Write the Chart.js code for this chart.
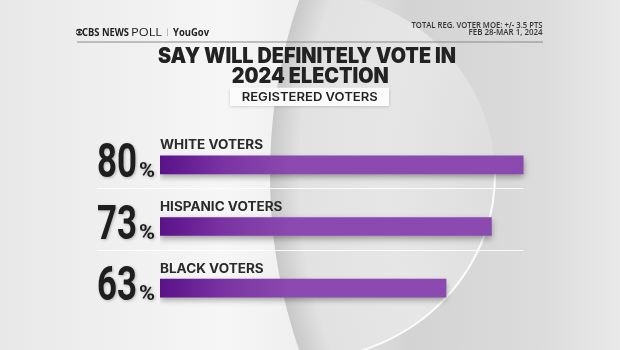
<!DOCTYPE html>
<html><head><meta charset="utf-8">
<script src="https://cdn.jsdelivr.net/npm/chart.js@4"></script>
<style>html,body{margin:0;padding:0;background:#ebebeb;overflow:hidden}#wrap{width:620px;height:350px;position:relative}</style>
</head><body><div id="wrap"><canvas id="c" width="620" height="350"></canvas></div>
<script>
const categories = ['WHITE VOTERS', 'HISPANIC VOTERS', 'BLACK VOTERS'];
const values = [80, 73, 63];
const axisMin = 0;
const axisMax = 100;
const titleLines = ['SAY WILL DEFINITELY VOTE IN', '2024 ELECTION'];
const subtitle = 'REGISTERED VOTERS';
const sourceLines = ['TOTAL REG. VOTER MOE: +/- 3.5 PTS', 'FEB 28-MAR 1, 2024'];
const brand = ['CBS NEWS', 'POLL', 'YouGov'];

function fitText(c, text, x, y, w, font, align, color) {
  c.save();
  c.font = font;
  const m = c.measureText(text).width;
  const s = w / m;
  c.translate(x, y);
  c.scale(s, 1);
  c.textAlign = align;
  c.textBaseline = 'alphabetic';
  c.fillStyle = color;
  c.fillText(text, 0, 0);
  c.restore();
}

const bgPlugin = {
  id: 'bg',
  beforeDraw(chart) {
    const c = chart.ctx, W = chart.width, H = chart.height;
    c.save();
    let g = c.createLinearGradient(0, 0, W, 0);
    g.addColorStop(0, '#e8e8e8');
    g.addColorStop(0.36, '#f6f6f6');
    g.addColorStop(0.47, '#f0f0f0');
    g.addColorStop(0.66, '#d3d3d3');
    g.addColorStop(0.88, '#dcdcdc');
    g.addColorStop(1, '#e9e9e9');
    c.fillStyle = g;
    c.fillRect(0, 0, W, H);
    // inner disc clipped by outer ellipse
    c.beginPath();
    c.ellipse(300, 175, 195, 185, 0, 0, Math.PI * 2);
    c.clip();
    c.translate(560, 175);
    c.scale(1, 400 / 290);
    const rg = c.createRadialGradient(0, 0, 0, 0, 0, 290);
    rg.addColorStop(0, '#d9d9d9');
    rg.addColorStop(0.6, '#e6e6e6');
    rg.addColorStop(0.9, '#e2e2e2');
    rg.addColorStop(1, '#c8c8c8');
    c.fillStyle = rg;
    c.beginPath();
    c.arc(0, 0, 290, 0, Math.PI * 2);
    c.fill();
    c.restore();
    // thin highlight
    c.save();
    c.strokeStyle = 'rgba(255,255,255,0.9)';
    c.lineWidth = 2;
    c.beginPath();
    c.ellipse(300, 175, 195, 185, 0, -0.05, 1.62);
    c.stroke();
    c.restore();

    // header
    c.save();
    // CBS eye
    c.fillStyle = '#222';
    c.beginPath(); c.arc(79.3, 32.2, 3.4, 0, Math.PI * 2); c.fill();
    c.fillStyle = '#f2f2f2';
    c.beginPath(); c.ellipse(79.3, 32.2, 3.1, 1.6, 0, 0, Math.PI * 2); c.fill();
    c.fillStyle = '#222';
    c.beginPath(); c.arc(79.3, 32.2, 1.2, 0, Math.PI * 2); c.fill();
    fitText(c, brand[0], 82, 35.5, 47, 'bold 10px "Open Sans"', 'left', '#222');
    fitText(c, brand[1], 131, 35.5, 31, '10px "Open Sans"', 'left', '#222');
    c.fillStyle = '#aaa'; c.fillRect(167, 28.5, 0.8, 7.5);
    fitText(c, brand[2], 173, 35.5, 36, 'bold 10px "Open Sans"', 'left', '#222');
    fitText(c, sourceLines[0], 542.5, 27.8, 131, '600 8px "Open Sans"', 'right', '#333');
    fitText(c, sourceLines[1], 542.5, 35.2, 74, '600 8px "Open Sans"', 'right', '#333');
    c.fillStyle = '#8a8a8a';
    c.fillRect(77, 41.5, 466, 1);
    // title
    fitText(c, titleLines[0], 307, 63.3, 298, '900 21px Inter', 'center', '#222');
    fitText(c, titleLines[1], 310.3, 83.3, 157, '900 21px Inter', 'center', '#222');
    // subtitle box
    c.shadowColor = 'rgba(0,0,0,0.2)'; c.shadowBlur = 3; c.shadowOffsetY = 1;
    c.fillStyle = '#fbfbfb';
    c.fillRect(230, 87.7, 159, 18.3);
    c.shadowColor = 'transparent';
    fitText(c, subtitle, 309.7, 100.7, 136, '600 12px Inter', 'center', '#222');
    c.restore();
  },
  beforeDatasetsDraw(chart) {
    const c = chart.ctx;
    const ys = chart.scales.y, xs = chart.scales.x;
    const x0 = xs.getPixelForValue(axisMin) - 63;
    const x1 = xs.getPixelForValue(axisMax * 0.8);
    c.save();
    c.fillStyle = 'rgba(255,255,255,0.85)';
    for (let i = 0; i < categories.length - 1; i++) {
      const y = Math.round(ys.getPixelForValue(i) + 23);
      c.fillRect(x0, y, x1 - x0, 1);
    }
    c.restore();
    c.save();
    c.shadowColor = 'rgba(0,0,0,0.35)';
    c.shadowBlur = 6;
    c.shadowOffsetY = 3;
  },
  afterDatasetsDraw(chart) {
    const c = chart.ctx;
    c.restore();
    const ys = chart.scales.y, xs = chart.scales.x;
    const left = xs.getPixelForValue(axisMin);
    c.save();
    c.font = 'bold 12.5px Inter';
    const labScale = 103 / c.measureText(categories[0]).width;
    c.font = 'bold 49px Roboto';
    const numScale = 40 / c.measureText('80').width;
    c.font = 'bold 20px Roboto';
    const pctScale = 16 / c.measureText('%').width;
    categories.forEach((cat, i) => {
      const yc = ys.getPixelForValue(i);
      // category label
      c.save();
      c.font = 'bold 12.5px Inter';
      c.fillStyle = '#2a2a2a';
      c.textAlign = 'left';
      c.translate(left, yc - 15.5);
      c.scale(labScale, 1);
      c.fillText(cat, 0, 0);
      c.restore();
      // big number
      c.save();
      c.shadowColor = 'rgba(0,0,0,0.25)'; c.shadowBlur = 3; c.shadowOffsetX = 1; c.shadowOffsetY = 1;
      c.font = 'bold 49px Roboto';
      c.fillStyle = '#1e1e1e';
      c.textAlign = 'right';
      c.translate(left - 23, yc + 12);
      c.scale(numScale, 1);
      c.fillText(String(values[i]), 0, 0);
      c.restore();
      c.save();
      c.shadowColor = 'rgba(0,0,0,0.25)'; c.shadowBlur = 3; c.shadowOffsetX = 1; c.shadowOffsetY = 1;
      c.font = 'bold 20px Roboto';
      c.fillStyle = '#1e1e1e';
      c.textAlign = 'left';
      c.translate(left - 21, yc + 12);
      c.scale(pctScale, 1);
      c.fillText('%', 0, 0);
      c.restore();
    });
    c.restore();
  }
};

new Chart(document.getElementById('c'), {
  type: 'bar',
  data: {
    labels: categories,
    datasets: [{
      data: values,
      barThickness: 18,
      borderWidth: 0,
      borderSkipped: false,
      backgroundColor(ctx) {
        const ca = ctx.chart.chartArea;
        if (!ca) return '#8a4aae';
        const g = ctx.chart.ctx.createLinearGradient(ca.left, 0, ca.left + 130, 0);
        g.addColorStop(0, '#5a1289');
        g.addColorStop(0.5, '#7a34a3');
        g.addColorStop(1, '#8b4aaf');
        return g;
      }
    }]
  },
  options: {
    indexAxis: 'y',
    responsive: false,
    animation: false,
    devicePixelRatio: 1,
    layout: { padding: { left: 160, right: 6, top: 134, bottom: 31 } },
    scales: {
      x: { display: false, min: axisMin, max: axisMax },
      y: { display: false }
    },
    plugins: { legend: { display: false }, tooltip: { enabled: false } }
  },
  plugins: [bgPlugin]
});
</script>
</body></html>
